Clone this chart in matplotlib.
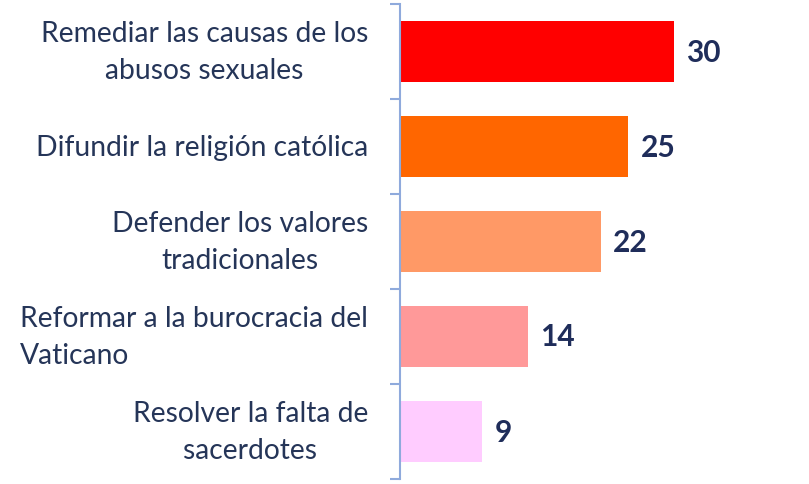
import matplotlib
matplotlib.use("Agg")
import matplotlib.pyplot as plt
from matplotlib.transforms import blended_transform_factory

categories = [
    "Remediar las causas de los\nabusos sexuales",
    "Difundir la religión católica",
    "Defender los valores\ntradicionales",
    "Reformar a la burocracia del\nVaticano",
    "Resolver la falta de\nsacerdotes",
]
values = [30, 25, 22, 14, 9]
colors = ["#FF0000", "#FF6600", "#FF9966", "#FF9999", "#FFCCFF"]
label_align = ["center", "center", "center", "left", "center"]

plt.rcParams['font.family'] = ['Lato', 'DejaVu Sans']

fig = plt.figure(figsize=(8.09, 4.85), dpi=100)
ax = fig.add_axes([400/809, 5/485, 409/809, 475/485])

n = len(values)
ypos = list(range(n))
ax.barh(ypos, values, height=0.65, color=colors, edgecolor='none')
ax.set_ylim(n - 0.5, -0.5)
ax.set_xlim(0, 44.8)

for s in ['top', 'right', 'bottom']:
    ax.spines[s].set_visible(False)
ax.spines['left'].set_color('#8FAADC')
ax.spines['left'].set_linewidth(1.5)
ax.set_xticks([])
ax.set_yticks([i - 0.5 for i in range(n + 1)])
ax.set_yticklabels([])
ax.tick_params(axis='y', direction='out', length=7, width=1.5, color='#8FAADC')

trans = blended_transform_factory(fig.transFigure, ax.transData)
for i, (lab, al) in enumerate(zip(categories, label_align)):
    ax.text(368/809, i, lab, transform=trans, ha='right', va='center',
            multialignment=al, fontsize=20.3, color='#253558', linespacing=1.48)

for i, v in enumerate(values):
    ax.annotate(str(v), (v, i), xytext=(9, 0), textcoords='offset points',
                ha='left', va='center', fontsize=21.5, fontweight='bold',
                color='#1F2D5A')

fig.savefig("out.png", dpi=100)
